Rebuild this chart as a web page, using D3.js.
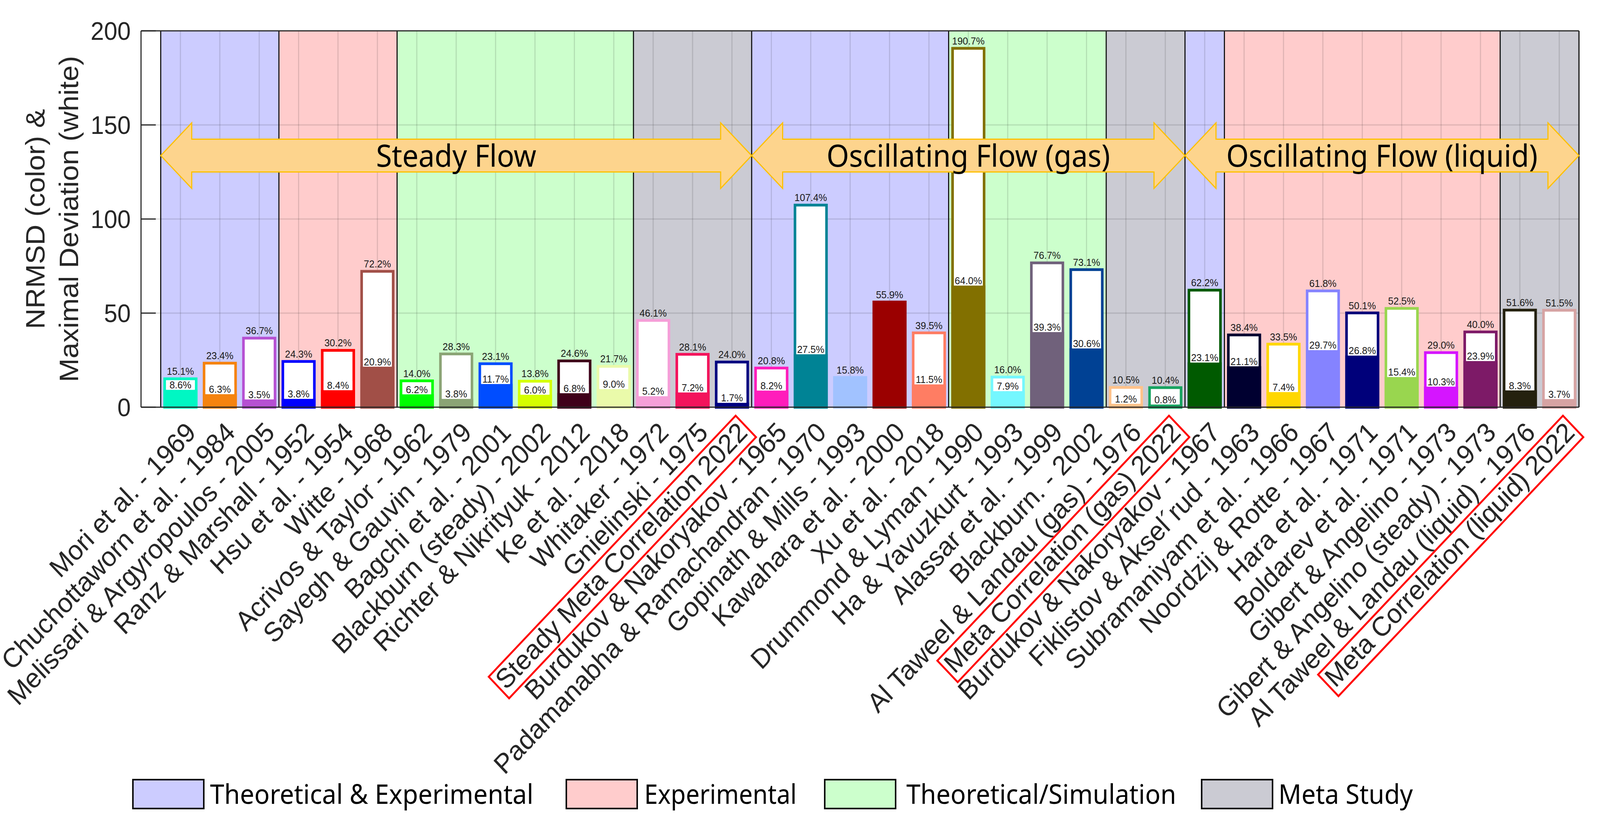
<!DOCTYPE html>
<html><head><meta charset="utf-8">
<script src="https://cdn.jsdelivr.net/npm/d3@7"></script>
<style>html,body{margin:0;padding:0;background:#fff;overflow:hidden}svg{display:block;width:100vw;height:100vh}</style>
</head><body>
<svg id="chart" viewBox="0 0 4334 2126" preserveAspectRatio="none"></svg>
<script>
// ---------------- DATA ----------------
const studies = [
  "Mori et al. - 1969","Chuchottaworn et al. - 1984","Melissari & Argyropoulos - 2005",
  "Ranz & Marshall - 1952","Hsu et al. - 1954","Witte - 1968",
  "Acrivos & Taylor - 1962","Sayegh & Gauvin - 1979","Bagchi et al. - 2001",
  "Blackburn (steady) - 2002","Richter & Nikrityuk - 2012","Ke et al. - 2018",
  "Whitaker - 1972","Gnielinski - 1975","Steady Meta Correlation 2022",
  "Burdukov & Nakoryakov - 1965","Padamanabha & Ramachandran - 1970","Gopinath & Mills - 1993",
  "Kawahara et al. - 2000","Xu et al. - 2018","Drummond & Lyman - 1990",
  "Ha & Yavuzkurt - 1993","Alassar et al. - 1999","Blackburn. - 2002",
  "Al Taweel & Landau (gas) - 1976","Meta Correlation (gas) 2022",
  "Burdukov & Nakoryakov - 1967","Fiklistov & Aksel\u00B4rud - 1963","Subramaniyam et al. - 1966",
  "Noordzij & Rotte - 1967","Hara et al. - 1971","Boldarev et al. - 1971",
  "Gibert & Angelino - 1973","Gibert & Angelino (steady) - 1973",
  "Al Taweel & Landau (liquid) - 1976","Meta Correlation (liquid) 2022"
];
const maxDeviation = [15.1,23.4,36.7,24.3,30.2,72.2,14.0,28.3,23.1,13.8,24.6,21.7,46.1,28.1,24.0,
  20.8,107.4,15.8,55.9,39.5,190.7,16.0,76.7,73.1,10.5,10.4,
  62.2,38.4,33.5,61.8,50.1,52.5,29.0,40.0,51.6,51.5];
const nrmsd = [8.6,6.3,3.5,3.8,8.4,20.9,6.2,3.8,11.7,6.0,6.8,9.0,5.2,7.2,1.7,
  8.2,27.5,null,null,11.5,64.0,7.9,39.3,30.6,1.2,0.8,
  23.1,21.1,7.4,29.7,26.8,15.4,10.3,23.9,8.3,3.7];
const barColors = ["#00F7C3","#F5830F","#B650D2","#0000FF","#FF0000","#A14F47",
  "#00FF00","#8BA475","#004DFF","#D5FF00","#3F001A","#EAFAAA",
  "#F59FD8","#F3145C","#000080",
  "#FF1DBB","#008395","#A1C2FF","#9B0000","#FF7D63",
  "#827000","#74F7FF","#70617B","#004194",
  "#FFC28A","#17A360",
  "#005A00","#000030","#FFD700","#8583FF","#00007A","#99D64F","#D515FF","#7D1A67",
  "#24210E","#D6A3A3"];
const studyType = ["TE","TE","TE","E","E","E","TS","TS","TS","TS","TS","TS","M","M","M",
  "TE","TE","TE","TE","TE","TS","TS","TS","TS","M","M",
  "TE","E","E","E","E","E","E","E","M","M"];
const highlighted = [15, 26, 36];
const flowRegimes = ["Steady Flow","Oscillating Flow (gas)","Oscillating Flow (liquid)"];
const flowCounts = [15, 11, 10];
const yTicks = [0, 50, 100, 150, 200];
const yLabelLines = ["NRMSD (color) &", "Maximal Deviation (white)"];
const legendTypes = ["TE","E","TS","M"];
const legendLabels = ["Theoretical & Experimental","Experimental","Theoretical/Simulation","Meta Study"];
const typeColors = {TE:"#CCCCFF", E:"#FFCCCC", TS:"#CCFFCC", M:"#CBCBD3"};

// ---------------- LAYOUT ----------------
const svg = d3.select("#chart");
const x = d3.scaleLinear().domain([0, 36.5]).range([382, 4277]);
const y = d3.scaleLinear().domain([0, 200]).range([1043, 79]);
const axisFont = "'Liberation Sans', Arial, Helvetica, sans-serif";
const calloutFont = "'Noto Sans', 'Open Sans', sans-serif";
const textCol = "#262626";
const n = studies.length;
const step = x(1) - x(0);
const bw = 0.8 * step;

// background patches (runs of study type)
const runs = [];
studyType.forEach((t, i) => {
  const p = i + 1;
  if (runs.length && runs[runs.length - 1].t === t) runs[runs.length - 1].end = p + 0.5;
  else runs.push({t, start: p - 0.5, end: p + 0.5});
});
svg.append("g").selectAll("rect").data(runs).join("rect")
  .attr("x", d => x(d.start)).attr("width", d => x(d.end) - x(d.start))
  .attr("y", y(200)).attr("height", y(0) - y(200))
  .attr("fill", d => typeColors[d.t]);

// grid
const grid = svg.append("g").attr("stroke", "#262626").attr("stroke-opacity", 0.15).attr("stroke-width", 3);
grid.selectAll("line.v").data(d3.range(1, n + 1)).join("line").attr("class", "v")
  .attr("x1", d => x(d)).attr("x2", d => x(d)).attr("y1", y(0)).attr("y2", y(200));
grid.selectAll("line.h").data(yTicks.filter(t => t > 0 && t < 200)).join("line").attr("class", "h")
  .attr("x1", x(0)).attr("x2", x(36.5)).attr("y1", d => y(d)).attr("y2", d => y(d));

// boundaries
const bounds = Array.from(new Set(runs.flatMap(r => [r.start, r.end])));
svg.append("g").selectAll("line").data(bounds).join("line")
  .attr("x1", d => x(d)).attr("x2", d => x(d)).attr("y1", y(0)).attr("y2", y(200))
  .attr("stroke", "#111").attr("stroke-width", 3);

// bars
const bars = svg.append("g");
const idx = d3.range(n);
bars.selectAll("rect.max").data(idx.filter(i => nrmsd[i] !== null)).join("rect").attr("class", "max")
  .attr("x", i => x(i + 1) - bw / 2).attr("width", bw)
  .attr("y", i => y(maxDeviation[i])).attr("height", i => y(0) - y(maxDeviation[i]))
  .attr("fill", "#fff").attr("stroke", i => barColors[i]).attr("stroke-width", 7);
bars.selectAll("rect.nr").data(idx).join("rect").attr("class", "nr")
  .attr("x", i => x(i + 1) - bw / 2).attr("width", bw)
  .attr("y", i => y(nrmsd[i] === null ? maxDeviation[i] : nrmsd[i]))
  .attr("height", i => y(0) - y(nrmsd[i] === null ? maxDeviation[i] : nrmsd[i]))
  .attr("fill", i => barColors[i]).attr("stroke", i => barColors[i]).attr("stroke-width", 7);

// top labels
svg.append("g").selectAll("text").data(idx).join("text")
  .attr("x", i => x(i + 1)).attr("y", i => y(maxDeviation[i]) - 10)
  .attr("text-anchor", "middle").attr("font-family", axisFont).attr("font-size", 26)
  .attr("fill", "#1a1a1a").text(i => maxDeviation[i].toFixed(1) + "%");

// inner labels
const inner = svg.append("g").selectAll("g").data(idx.filter(i => nrmsd[i] !== null)).join("g")
  .attr("transform", i => `translate(${x(i + 1)},${y(nrmsd[i]) - 3})`);
inner.append("rect").attr("x", -39).attr("y", -24).attr("width", 78).attr("height", 24).attr("fill", "#fff");
inner.append("text").attr("y", -3.5).attr("text-anchor", "middle")
  .attr("font-family", axisFont).attr("font-size", 26).attr("fill", "#1a1a1a")
  .text(i => nrmsd[i].toFixed(1) + "%");

// axes box
const ax = svg.append("g").attr("stroke", "#262626").attr("stroke-width", 3);
ax.append("line").attr("x1", x(0)).attr("x2", x(36.5)).attr("y1", y(0)).attr("y2", y(0));
ax.append("line").attr("x1", x(0)).attr("x2", x(36.5)).attr("y1", y(200)).attr("y2", y(200));
ax.append("line").attr("x1", x(0)).attr("x2", x(0)).attr("y1", y(0)).attr("y2", y(200));
ax.append("line").attr("x1", x(36.5)).attr("x2", x(36.5)).attr("y1", y(0)).attr("y2", y(200));
ax.selectAll("line.t").data(yTicks).join("line").attr("class", "t")
  .attr("x1", x(0)).attr("x2", x(0) + 40).attr("y1", d => y(d)).attr("y2", d => y(d));

// y tick labels
svg.append("g").selectAll("text").data(yTicks).join("text")
  .attr("x", 354).attr("y", d => y(d)).attr("dy", "0.36em")
  .attr("text-anchor", "end").attr("font-family", axisFont).attr("font-size", 65)
  .attr("fill", textCol).text(d => d);

// y label
svg.append("g").selectAll("text").data(yLabelLines).join("text")
  .attr("transform", (d, i) => `translate(${121 + i * 91},${(y(0) + y(200)) / 2}) rotate(-90)`)
  .attr("text-anchor", "middle").attr("font-family", axisFont).attr("font-size", 73)
  .attr("fill", textCol).text(d => d);

// x tick labels
const xl = svg.append("g").selectAll("g").data(idx).join("g")
  .attr("transform", i => `translate(${x(i + 1) + 10},1076) rotate(-45)`);
xl.append("text").attr("text-anchor", "end").attr("dy", "0.72em")
  .attr("font-family", axisFont).attr("font-size", 70).attr("fill", textCol)
  .text(i => studies[i]);
xl.filter(i => highlighted.includes(i + 1)).each(function () {
  const g = d3.select(this);
  const w = g.select("text").node().getComputedTextLength();
  g.append("rect").attr("x", -w - 8).attr("y", -8).attr("width", w + 16).attr("height", 78)
    .attr("fill", "none").attr("stroke", "#FF0000").attr("stroke-width", 5);
});

// flow arrows
const cy = y(133.7), sh = 42, hh = 84, hl = 84;
let acc = 0.5;
const spans = flowCounts.map(c => { const s = {a: acc, b: acc + c}; acc += c; return s; });
const arrows = svg.append("g");
spans.forEach((s, k) => {
  const xl0 = x(s.a), xr0 = x(s.b);
  const pts = [[xl0, cy], [xl0 + hl, cy - hh], [xl0 + hl, cy - sh], [xr0 - hl, cy - sh], [xr0 - hl, cy - hh],
    [xr0, cy], [xr0 - hl, cy + hh], [xr0 - hl, cy + sh], [xl0 + hl, cy + sh], [xl0 + hl, cy + hh]];
  arrows.append("polygon").attr("points", pts.map(p => p.join(",")).join(" "))
    .attr("fill", "#FDD48D").attr("stroke", "#FFC000").attr("stroke-width", 3).attr("stroke-linejoin", "miter");
});
spans.forEach((s, k) => {
  arrows.append("text").attr("x", (x(s.a) + x(s.b)) / 2).attr("y", cy + 28)
    .attr("text-anchor", "middle").attr("font-family", calloutFont).attr("font-size", 78)
    .attr("fill", "#000").text(flowRegimes[k]);
});

// legend
const legX = [360, 1534, 2234, 3255];
const legTextX = [569, 1745, 2455, 3463];
const legTextW = [876, 413, 731, 364];
const leg = svg.append("g");
legendTypes.forEach((t, k) => {
  leg.append("rect").attr("x", legX[k]).attr("y", 1997).attr("width", 192).attr("height", 74)
    .attr("fill", typeColors[t]).attr("stroke", "#000").attr("stroke-width", 4);
  leg.append("text").attr("x", legTextX[k]).attr("y", 2059)
    .attr("font-family", calloutFont).attr("font-size", 70)
    .attr("textLength", legTextW[k]).attr("lengthAdjust", "spacingAndGlyphs")
    .attr("fill", "#000").text(legendLabels[k]);
});
</script>
</body></html>
